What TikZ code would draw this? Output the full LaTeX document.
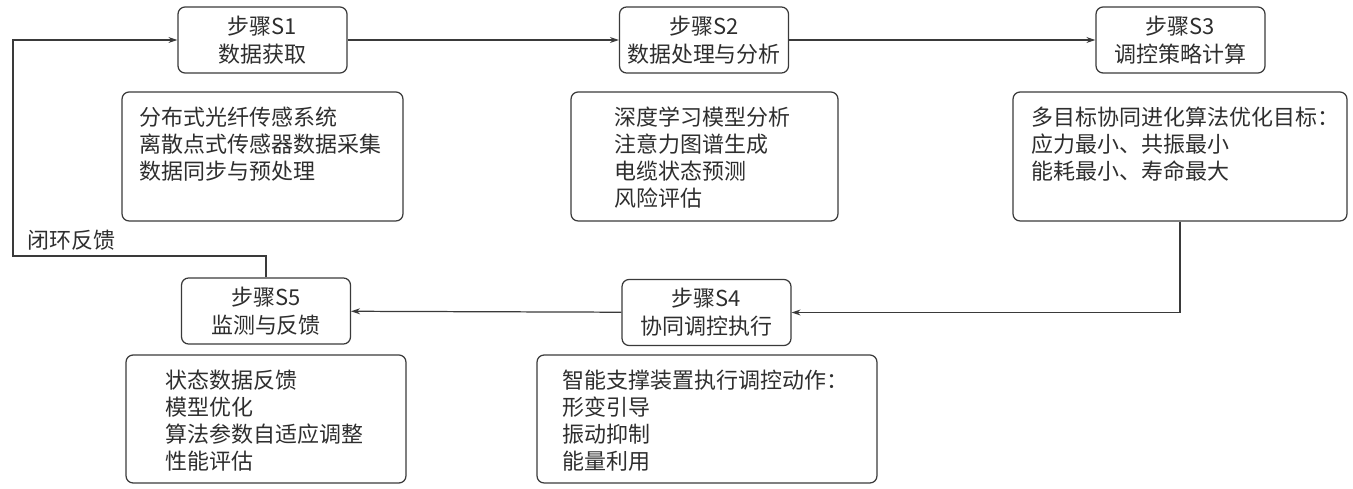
\documentclass[tikz,border=0pt]{standalone}
\usepackage{fontspec}
\setmainfont{Noto Sans CJK SC}
\usepackage{xcolor}
\definecolor{ink}{HTML}{3A3A3A}
\definecolor{txt}{HTML}{2E2E2E}
\usetikzlibrary{arrows.meta,positioning,calc}
\tikzset{
  >={Stealth[length=1.8mm,width=1.2mm]},
  stepbox/.style={draw=ink,rounded corners=4pt,line width=0.7pt,minimum width=3.38cm,minimum height=1.32cm,
    inner sep=0pt,align=center,text=txt,font=\fontsize{12.5}{15.9}\selectfont},
  infobox/.style={draw=ink,rounded corners=4pt,line width=0.7pt,inner sep=0pt},
  infotext/.style={anchor=north west,inner sep=0pt,align=left,text=txt,font=\fontsize{12.5}{15.4}\selectfont},
  arr/.style={->,draw=ink,line width=0.7pt},
}
\begin{document}
\begin{tikzpicture}[x=0.02cm,y=-0.02cm]
\useasboundingbox (0,0) rectangle (1353,489);
% steps
\node[stepbox] (s1) at (262.5,40) {步骤S1\\数据获取};
\node[stepbox] (s2) at (704,40) {步骤S2\\数据处理与分析};
\node[stepbox] (s3) at (1180.5,40) {步骤S3\\调控策略计算};
\node[stepbox] (s4) at (706.5,312.5) {步骤S4\\协同调控执行};
\node[stepbox] (s5) at (266,311) {步骤S5\\监测与反馈};
% detail boxes
\node[infobox,minimum width=5.62cm,minimum height=2.58cm] (d1) at (262.5,156.5) {};
\node[infobox,minimum width=5.34cm,minimum height=2.58cm] (d2) at (704.5,156.5) {};
\node[infobox,minimum width=6.68cm,minimum height=2.58cm] (d3) at (1180,156.5) {};
\node[infobox,minimum width=6.80cm,minimum height=2.56cm] (d4) at (707,419) {};
\node[infobox,minimum width=5.60cm,minimum height=2.56cm] (d5) at (266,419) {};
\node[infotext] (t1) at ([shift={(18,15)}]d1.north west) {分布式光纤传感系统\\离散点式传感器数据采集\\数据同步与预处理};
\node[infotext] (t2) at ([shift={(44,15)}]d2.north west) {深度学习模型分析\\注意力图谱生成\\电缆状态预测\\风险评估};
\node[infotext] (t3) at ([shift={(19,15)}]d3.north west) {多目标协同进化算法优化目标：\\应力最小、共振最小\\能耗最小、寿命最大};
\node[infotext] (t4) at ([shift={(26,15)}]d4.north west) {智能支撑装置执行调控动作：\\形变引导\\振动抑制\\能量利用};
\node[infotext] (t5) at ([shift={(40,15)}]d5.north west) {状态数据反馈\\模型优化\\算法参数自适应调整\\性能评估};
% flow
\draw[arr] (s1) -- (s2);
\draw[arr] (s2) -- (s3);
\draw[arr] (d3.south) |- (s4.east);
\draw[arr] (s4) -- (s5);
\coordinate (fb) at (13,256);
\draw[arr] (s5.north) |- (fb) |- (s1.west);
\node[anchor=west,inner sep=0pt,text=txt,font=\fontsize{12.5}{14}\selectfont] (lbl) at (27,240) {闭环反馈};
\end{tikzpicture}
\end{document}
